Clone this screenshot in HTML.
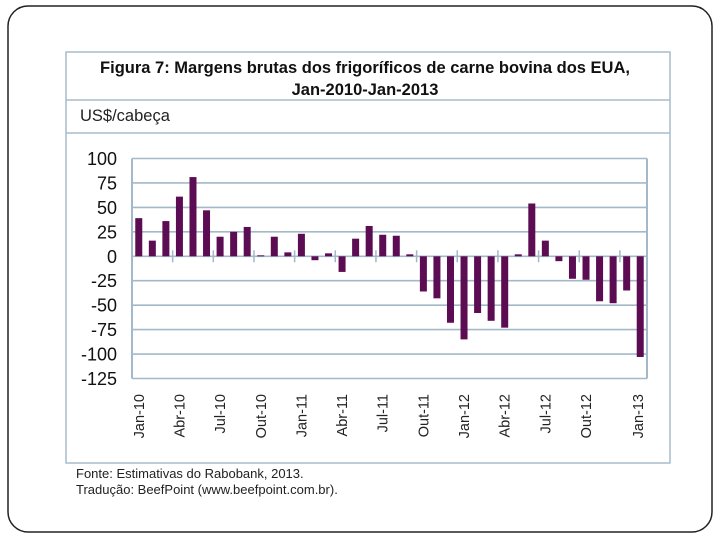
<!DOCTYPE html>
<html><head><meta charset="utf-8"><style>
body{margin:0;background:#fff;}
svg{display:block;font-family:"Liberation Sans",sans-serif;}
</style></head><body>
<svg width="720" height="540" viewBox="0 0 720 540">
<rect x="8" y="6" width="704" height="526" rx="20" fill="#fff" stroke="#222" stroke-width="1.5"/>
<rect x="66" y="52" width="604" height="411" fill="#fff" stroke="#a9bccb" stroke-width="1.5"/>
<line x1="66" y1="100" x2="670" y2="100" stroke="#a9bccb" stroke-width="1.5"/>
<line x1="66" y1="133" x2="670" y2="133" stroke="#a9bccb" stroke-width="1.5"/>
<text x="365" y="73" text-anchor="middle" font-size="16.5" font-weight="bold" fill="#111">Figura 7: Margens brutas dos frigoríficos de carne bovina dos EUA,</text>
<text x="365" y="95" text-anchor="middle" font-size="16.5" font-weight="bold" fill="#111">Jan-2010-Jan-2013</text>
<text x="80" y="121" font-size="16.5" fill="#222">US$/cabeça</text>
<g id="chart"></g>
<text x="76" y="478" font-size="13" fill="#222">Fonte: Estimativas do Rabobank, 2013.</text>
<text x="76" y="494" font-size="13" fill="#222">Tradução: BeefPoint (www.beefpoint.com.br).</text>
</svg>
<script>
const values=[39,16,36,61,81,47,20,25,30,1,20,4,23,-4,3,-16,18,31,22,21,2,-36,-43,-68,-85,-58,-66,-73,2,54,16,-5,-23,-24,-46,-48,-35,-103];
const yTicks=[100,75,50,25,0,-25,-50,-75,-100,-125];
const xLabels=["Jan-10","Abr-10","Jul-10","Out-10","Jan-11","Abr-11","Jul-11","Out-11","Jan-12","Abr-12","Jul-12","Out-12","Jan-13"];
const NS="http://www.w3.org/2000/svg";
const g=document.getElementById('chart');
const L=132,R=647,yMax=100,yMin=-125,T=158.5,B=378.5;
const y=v=>T+(yMax-v)/(yMax-yMin)*(B-T);
const slot=(R-L)/values.length;
const x=i=>L+(i+0.5)*slot;
function mk(t,a){const e=document.createElementNS(NS,t);for(const k in a)e.setAttribute(k,a[k]);g.appendChild(e);return e;}
yTicks.forEach(v=>{
  const ln=mk('line',{x1:L,x2:R,y1:y(v),y2:y(v),stroke:'#a3b8c8','stroke-width':1.6});
  
  
  const t=mk('text',{x:117,y:y(v)+6.5,'text-anchor':'end','font-size':18,fill:'#111'});
  t.textContent=v;
  
  
});
const ax=mk('line',{x1:L,x2:L,y1:T,y2:B,stroke:'#a3b8c8','stroke-width':2});


const ax2=mk('line',{x1:R,x2:R,y1:T,y2:B,stroke:'#a3b8c8','stroke-width':2});


for(let i=3;i<values.length;i+=3){
  const tk=mk('line',{x1:L+i*slot,x2:L+i*slot,y1:y(0)-6,y2:y(0)+6,stroke:'#a3b8c8','stroke-width':1.5});
  
  
}
values.forEach((v,i)=>{
  const y0=y(0),yv=y(v);
  const r=mk('rect',{x:x(i)-3.5,width:7,y:Math.min(y0,yv),height:Math.max(1,Math.abs(yv-y0)),fill:'#5c0c52'});
  
  
});
xLabels.forEach((s,i)=>{
  const xi=i*3<values.length?x(i*3):x(values.length-1);
  const px=i===xLabels.length-1?x(values.length-1)-2:xi;
  const t=mk('text',{x:0,y:0,'text-anchor':'end','font-size':14.5,fill:'#222',transform:`translate(${px+5},394) rotate(-90)`});
  t.textContent=s;
  
  
});
</script>
</body></html>
